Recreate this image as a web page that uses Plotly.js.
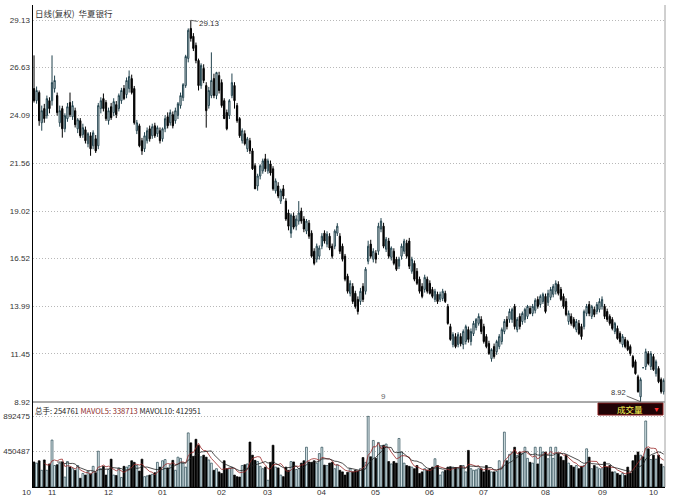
<!DOCTYPE html>
<html><head><meta charset="utf-8">
<script src="https://cdn.plot.ly/plotly-3.0.1.min.js"></script>
<style>html,body{margin:0;padding:0;background:#fff}#chart{width:676px;height:500px}</style>
</head><body><div id="chart"></div>
<script>
// ---- daily OHLC (adjusted), one entry per trading day ----
const openPrices = [
25.51,24.87,25.30,23.70,24.45,24.08,24.87,
24.87,25.51,25.14,23.70,24.45,23.38,23.92,24.77,24.02,24.34,23.38,23.81,23.07,23.33,22.59,23.01,22.48,22.85,22.48,24.45,24.98,24.77,
23.81,24.55,24.24,24.66,24.45,24.87,25.51,25.20,25.51,26.04,25.51,23.28,23.54,22.75,22.32,22.75,23.38,23.01,23.54,23.12,23.28,
22.85,23.38,24.02,23.70,24.13,23.81,24.08,24.61,25.03,25.67,27.11,28.70,28.28,27.80,27.00,25.67,26.58,25.67,24.61,25.14,26.04,25.14,26.20,
25.83,24.87,24.24,24.08,25.14,25.67,24.61,23.92,22.75,23.12,22.32,22.75,22.21,21.42,20.35,20.88,21.15,21.79,
21.15,21.52,21.26,20.09,20.35,19.55,20.20,19.55,18.92,17.85,18.76,18.22,18.49,19.02,18.60,17.96,18.38,17.85,16.89,16.47,16.63,
17.16,17.85,17.27,17.69,17.16,17.16,17.85,17.69,17.16,16.63,15.57,14.66,15.03,14.66,14.34,14.23,15.03,14.77,16.36,17.27,16.47,
16.79,16.89,18.07,18.22,17.00,17.43,16.57,16.89,16.47,16.10,16.63,16.89,17.32,17.43,15.83,16.25,15.83,15.41,15.03,14.87,15.41,
15.19,14.87,14.34,14.61,14.34,14.39,14.66,13.97,12.90,11.95,12.37,11.95,12.37,11.95,12.11,12.74,12.11,12.53,12.85,13.07,13.28,
12.90,12.37,12.00,11.20,11.84,11.57,11.84,12.11,12.64,13.28,13.28,13.28,13.97,12.74,13.44,13.17,13.28,13.44,13.86,13.60,13.76,14.34,14.07,14.23,
14.50,14.18,14.45,14.61,14.77,15.14,14.87,14.50,14.23,13.17,13.44,13.28,12.74,13.07,12.90,12.90,13.60,14.07,13.44,13.81,13.70,13.81,
13.97,13.97,13.70,13.44,13.28,12.64,12.80,12.53,11.95,12.21,12.11,11.84,11.31,11.04,10.24,9.18,10.72,10.78,11.47,10.78,
11.31,10.41,10.68,10.09,9.45];
const highPrices = [
27.27,25.62,25.41,24.61,24.70,25.14,25.05,
27.27,26.20,25.30,24.61,24.60,24.20,24.75,25.30,24.85,24.50,23.95,23.95,23.65,23.50,23.20,23.20,23.30,23.05,24.75,25.05,25.25,24.90,
24.50,24.75,25.00,24.85,25.25,25.55,25.70,26.10,26.47,26.25,25.65,23.85,23.65,22.90,23.20,23.45,23.55,23.65,23.70,23.55,23.45,
23.45,24.10,24.25,24.40,24.30,24.50,24.80,25.30,25.80,27.30,28.70,29.13,28.45,27.95,27.10,26.85,26.80,25.85,25.60,27.43,26.30,26.40,26.40,
26.00,25.00,24.40,24.95,26.31,25.85,24.75,24.00,23.40,23.30,22.95,22.90,22.35,21.55,21.00,21.50,21.80,22.05,
21.80,21.70,21.40,20.75,20.55,20.20,20.40,19.70,19.10,18.90,18.95,18.80,19.55,19.20,18.75,18.60,18.55,18.00,17.05,17.30,17.20,
17.85,18.00,17.95,17.85,17.30,18.05,18.38,17.85,17.30,16.75,15.70,15.35,15.20,14.80,14.50,14.95,15.20,16.05,17.45,17.50,17.05,
16.95,18.40,18.65,18.40,17.65,17.60,17.15,17.05,16.60,16.60,17.30,17.55,17.50,17.60,16.60,16.40,16.00,15.55,15.20,15.65,15.55,
15.35,15.00,14.90,14.75,14.75,14.90,14.80,14.10,13.05,12.60,12.55,12.60,12.55,12.75,13.00,12.90,12.80,13.20,13.35,13.60,13.45,
13.05,12.50,12.15,11.75,12.00,12.20,12.50,12.85,13.30,13.45,13.85,13.90,14.10,13.40,13.60,13.70,13.90,14.05,14.00,14.10,14.40,14.50,14.60,14.70,
14.65,14.85,15.00,15.15,15.35,15.30,15.00,14.65,14.40,13.75,13.60,13.40,13.30,13.25,13.05,13.80,14.10,14.25,14.05,13.95,14.20,14.40,
14.50,14.10,13.85,13.55,13.40,13.15,12.95,12.65,12.50,12.35,12.20,11.95,11.40,11.15,10.35,10.20,10.72,11.73,11.60,11.60,
11.45,11.15,10.80,10.20,10.15];
const lowPrices = [
24.77,24.71,23.54,23.28,23.70,23.92,24.20,
24.61,25.30,24.08,23.49,22.91,23.20,23.75,24.00,23.85,23.45,23.15,22.90,22.90,22.60,22.40,21.95,22.30,22.10,22.30,24.20,24.30,23.80,
23.60,23.85,24.05,23.95,24.30,24.70,24.90,25.00,25.30,25.20,23.60,23.10,22.40,22.00,22.15,22.60,22.70,22.85,22.90,22.95,22.60,
22.70,23.20,23.40,23.55,23.40,23.65,23.90,24.45,24.85,25.55,26.90,28.00,27.50,26.85,25.41,25.50,25.80,23.44,24.45,25.00,25.00,24.95,25.25,
24.50,23.90,23.30,23.90,25.00,24.45,23.70,22.90,22.60,22.50,22.15,22.05,21.20,20.20,20.10,20.70,21.00,21.10,
21.00,20.90,20.10,19.95,19.70,19.40,19.65,18.50,18.00,17.60,18.05,18.00,18.30,18.35,17.90,17.80,17.55,16.55,16.15,16.30,16.45,
17.00,17.30,17.10,16.95,16.50,17.00,17.70,16.75,16.35,15.30,14.65,14.50,14.10,13.85,13.54,14.05,14.20,14.60,16.20,16.50,16.30,
16.25,16.70,17.90,17.05,16.85,16.50,16.40,16.15,15.85,15.95,16.45,16.75,16.50,15.95,15.70,15.30,15.10,14.65,14.40,14.70,14.65,
14.60,14.40,14.20,14.10,14.20,14.25,14.15,13.00,12.15,11.80,11.75,11.80,11.85,11.70,11.95,12.05,11.90,12.40,12.70,12.95,12.50,
12.00,11.75,11.40,11.04,11.20,11.40,11.70,11.95,12.50,12.75,13.10,13.10,12.75,12.60,12.75,13.00,13.10,13.30,13.55,13.45,13.60,13.85,13.90,14.10,
13.60,14.00,14.30,14.45,14.60,14.55,14.25,13.85,13.45,13.00,12.95,12.80,12.60,12.45,12.21,12.75,13.45,13.45,13.30,13.40,13.55,13.65,
13.80,13.30,13.15,12.95,12.70,12.50,12.20,12.00,11.80,11.75,11.60,11.35,10.70,10.35,9.40,8.92,10.72,10.60,10.85,10.60,
10.55,10.25,9.90,9.35,9.30];
const closePrices = [
24.87,25.41,23.81,24.34,23.92,24.98,24.45,
25.83,25.94,24.24,24.34,23.38,24.08,24.55,24.13,24.61,23.60,23.86,23.01,23.44,22.75,23.12,22.32,23.17,22.21,24.61,24.87,24.45,23.92,
24.34,23.97,24.82,24.13,25.14,25.41,24.98,25.94,26.15,25.30,23.70,23.70,22.48,22.21,23.01,23.28,22.85,23.49,23.01,23.44,22.75,
23.38,23.92,23.54,24.24,23.54,24.34,24.71,25.14,25.72,27.21,28.60,28.17,27.64,27.00,25.67,26.74,25.94,24.34,25.41,25.94,25.14,26.36,25.41,
24.61,23.92,23.38,24.87,25.83,24.87,23.81,23.01,23.28,22.59,22.85,22.21,21.26,20.20,20.88,21.42,21.68,21.26,
21.68,21.04,20.20,20.62,19.82,20.09,19.82,18.60,18.22,18.81,18.17,18.60,18.92,18.49,18.07,18.49,17.69,16.63,16.25,17.16,17.06,
17.69,17.43,17.80,17.06,16.63,17.96,18.22,16.89,16.47,15.41,14.77,15.19,14.23,13.97,13.70,14.77,14.34,15.94,17.16,16.63,16.89,
16.47,18.22,18.49,17.16,17.53,16.63,17.06,16.25,15.94,16.47,17.16,17.43,16.63,16.10,16.47,15.41,15.19,14.77,14.50,15.51,14.77,
14.66,14.50,14.77,14.23,14.61,14.77,14.23,13.07,12.22,12.48,11.84,12.48,11.99,12.64,12.90,12.22,12.64,13.07,13.28,13.44,12.64,
12.11,11.84,11.47,11.68,11.31,12.11,12.37,12.74,13.17,12.90,13.70,13.81,12.90,13.28,12.90,13.60,13.81,13.97,13.60,13.97,14.29,13.97,14.50,14.61,
13.70,14.66,14.87,15.03,15.19,14.66,14.34,13.97,13.54,13.60,13.07,12.90,13.17,12.53,12.37,13.70,13.97,13.60,13.97,13.54,14.07,14.23,
14.34,13.44,13.28,13.07,12.80,13.07,12.27,12.11,12.37,11.84,11.68,11.47,10.78,10.41,9.45,10.09,10.72,11.57,10.94,11.47,
10.62,11.04,9.98,9.45,10.04];
// volume, in thousands of lots (总手)
const volumeThousands = [
315,300,330,210,340,210,290,
590,270,280,300,315,125,320,250,230,210,270,110,170,150,200,165,260,180,450,230,260,150,
220,350,150,145,240,120,260,250,270,330,310,270,200,350,130,140,150,160,180,310,250,
330,345,240,280,335,210,375,360,300,250,680,555,385,600,525,380,400,375,340,300,210,230,190,
170,330,230,240,250,150,130,125,270,280,290,565,400,335,320,260,230,250,
85,310,525,250,240,150,130,250,210,320,315,220,230,300,330,500,315,310,330,300,420,
500,275,270,300,310,230,280,210,190,150,185,230,190,210,200,230,370,310,888,380,585,
360,560,520,525,540,320,290,320,300,610,440,300,270,260,250,230,270,170,190,230,210,
230,250,355,270,150,190,210,250,255,250,245,230,270,270,190,460,230,210,215,230,230,
190,270,210,190,190,195,330,250,690,330,410,440,500,395,440,420,500,360,310,300,500,290,500,440,
440,355,500,360,500,420,380,335,400,300,270,250,270,230,260,272,480,375,230,270,250,230,
230,315,250,270,190,190,170,150,170,145,250,175,330,400,440,400,380,830,480,345.945,
400,350,400,288.804,254.761];
// month labels and the trading-day index where each month starts
const monthLabels = ['10','11','12','01','02','03','04','05','06','07','08','09','10'];
const monthStartIndex = [0,7,29,50,73,91,112,133,154,175,199,221,241];
const priceTickLabels = ['29.13','26.63','24.09','21.56','19.02','16.52','13.99','11.45','8.92'];
const volumeTickLabels = ['892475','450487'];
const stockName = '华夏银行';
const periodName = '日线(复权)';

// ---- derived ----
const N = closePrices.length;
const dayIndex = closePrices.map((_, i) => i);
const volumes = volumeThousands.map(v => Math.round(v * 1000));
function movingAvg(arr, n) {
  return arr.map((_, i) => {
    if (i < n - 1) return null;
    let s = 0; for (let k = i - n + 1; k <= i; k++) s += arr[k];
    return s / n;
  });
}
const ma5 = movingAvg(volumes, 5);
const ma10 = movingAvg(volumes, 10);
const isUp = closePrices.map((c, i) => c > openPrices[i]);
const upFill = '#e4f0f3', upLine = '#22434e';

const maxHigh = Math.max(...highPrices), minLow = Math.min(...lowPrices);
const maxIdx = highPrices.indexOf(maxHigh), minIdx = lowPrices.indexOf(minLow);

const traces = [
  {type:'candlestick', x:dayIndex, open:openPrices, high:highPrices, low:lowPrices, close:closePrices,
   xaxis:'x', yaxis:'y', whiskerwidth:0, hoverinfo:'skip',
   increasing:{line:{color:upLine, width:1}, fillcolor:'#ffffff'},
   decreasing:{line:{color:'#000000', width:1}, fillcolor:'#000000'}},
  {type:'bar', x:dayIndex, y:volumes, xaxis:'x', yaxis:'y2', width:0.72, hoverinfo:'skip',
   marker:{color:isUp.map(u => u ? upFill : '#000000'),
           line:{color:isUp.map(u => u ? upLine : '#000000'), width:0.7}}},
  {type:'scatter', mode:'lines', x:dayIndex, y:ma5, xaxis:'x', yaxis:'y2', hoverinfo:'skip',
   line:{color:'#9a2a2a', width:0.8}},
  {type:'scatter', mode:'lines', x:dayIndex, y:ma10, xaxis:'x', yaxis:'y2', hoverinfo:'skip',
   line:{color:'#222222', width:0.8}}
];

const mainBottom = 85 / 482;
const annotations = [];
monthLabels.forEach((m, k) => {
  annotations.push({xref:'x', yref:'paper', x:monthStartIndex[k], y:0, xanchor:'center', yanchor:'top', yshift:1,
    xshift: k === 0 ? -8 : 0, text:m, showarrow:false, font:{size:8, color:'#333'}});
});
annotations.push({xref:'paper', yref:'paper', x:0, y:1, xanchor:'left', yanchor:'top', xshift:0, yshift:0,
  text:'<span style="color:#333">' + periodName + '</span>  <span style="color:#333">' + stockName + '</span>',
  showarrow:false, font:{family:'Noto Sans CJK SC, sans-serif', size:8.5}});
annotations.push({xref:'paper', yref:'paper', x:0, y:mainBottom, xanchor:'left', yanchor:'top', yshift:-1,
  text:'<span style="color:#222">总手: ' + volumes[N-1] + '</span> <span style="color:#8b2a2a">MAVOL5: ' + Math.round(ma5[N-1]) +
       '</span> <span style="color:#222">MAVOL10: ' + Math.round(ma10[N-1]) + '</span>',
  showarrow:false, font:{family:'Noto Sans CJK SC, Liberation Sans, sans-serif', size:7.5}});
annotations.push({xref:'x', yref:'y', x:maxIdx, y:maxHigh, text:maxHigh.toFixed(2), showarrow:true,
  arrowhead:0, arrowwidth:0.8, arrowcolor:'#444', ax:19, ay:3, font:{size:8, color:'#333'}});
annotations.push({xref:'x', yref:'y', x:minIdx, y:minLow, text:minLow.toFixed(2), showarrow:true,
  arrowhead:0, arrowwidth:0.8, arrowcolor:'#444', ax:-22, ay:-9, borderpad:0, font:{size:7.5, color:'#333'}});
annotations.push({xref:'x', yref:'y', x:136, y:9.2, text:'9', showarrow:false, font:{size:8, color:'#666'}});
annotations.push({xref:'paper', yref:'paper', x:(630-33)/632, y:(487-409)/482, xanchor:'center', yanchor:'middle',
  text:'成交量', showarrow:false, borderpad:0,
  font:{family:'Noto Sans CJK SC, sans-serif', size:8.5, color:'#ffff55'}});
annotations.push({xref:'paper', yref:'paper', x:(656-33)/632, y:(487-409)/482, xanchor:'center', yanchor:'middle',
  text:'▼', showarrow:false, borderpad:0, font:{size:7, color:'#ff3030'}});

const gridStyle = {showgrid:true, gridcolor:'#b8b8b8', griddash:'1px,2px', gridwidth:1, zeroline:false,
  showline:true, linecolor:'#000', linewidth:1.5, ticks:'', tickfont:{size:8, color:'#333'}, fixedrange:true};
const layout = {
  width:676, height:500, margin:{l:33, r:11, t:5, b:13, pad:0},
  paper_bgcolor:'#ffffff', plot_bgcolor:'#ffffff', showlegend:false, hovermode:false,
  font:{family:'Liberation Sans, Arial, sans-serif', size:8, color:'#333'},
  bargap:0,
  xaxis:{range:[-0.4, N - 0.5], anchor:'y2', showgrid:false, zeroline:false, showticklabels:false,
    showline:true, linecolor:'#000', linewidth:1, ticks:'', rangeslider:{visible:false}, fixedrange:true},
  yaxis:Object.assign({domain:[mainBottom, 1], range:[8.904, 29.94], tickmode:'array',
    tickvals:priceTickLabels.map(Number), ticktext:priceTickLabels}, gridStyle),
  yaxis2:Object.assign({domain:[0, mainBottom], range:[0, 1068450], tickmode:'array',
    tickvals:volumeTickLabels.map(Number), ticktext:volumeTickLabels}, gridStyle),
  shapes:[
    {type:'line', xref:'paper', yref:'paper', x0:0, x1:1, y0:mainBottom, y1:mainBottom, line:{color:'#555', width:1}},
    {type:'line', xref:'paper', yref:'paper', x0:1, x1:1, y0:0, y1:1, line:{color:'#a0a0a0', width:1}},
    {type:'rect', xref:'paper', yref:'paper', x0:(598-33)/632, x1:(663-33)/632, y0:(487-415)/482, y1:(487-403)/482,
     fillcolor:'#200306', line:{color:'#8b1a1a', width:1}, layer:'below'}
  ],
  annotations:annotations
};
Plotly.newPlot('chart', traces, layout, {staticPlot:true, displayModeBar:false});
</script>
</body></html>
